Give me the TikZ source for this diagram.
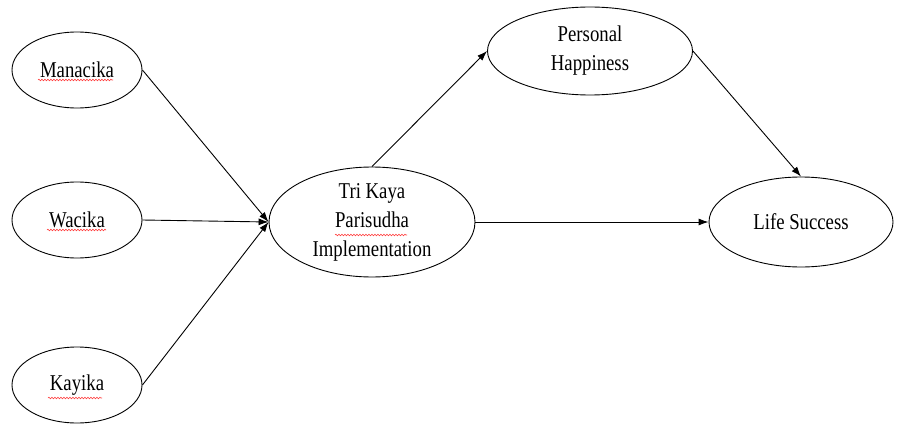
\documentclass[tikz,border=0pt]{standalone}
\usepackage{fontspec}
\setmainfont{Liberation Serif}[FakeStretch=0.83]
\usetikzlibrary{shapes.geometric,arrows.meta,decorations.pathmorphing}
\tikzset{
  oval/.style={ellipse,draw,line width=0.9pt,inner sep=0pt,align=center,
    font=\fontsize{22.6}{29}\selectfont},
  conn/.style={line width=0.9pt,-{Latex[length=10pt,width=7pt]}},
  squig/.style={red!75,line width=0.6pt,decorate,decoration={snake,segment length=3pt,amplitude=0.8pt}}
}
\begin{document}
\begin{tikzpicture}[x=1pt,y=-1pt]
\useasboundingbox (0,0) rectangle (901,425);
\node[oval,minimum width=130,minimum height=76] (man) at (77,70) {Manacika};
\node[oval,minimum width=130,minimum height=76] (wac) at (77,220) {Wacika};
\node[oval,minimum width=130,minimum height=76] (kay) at (77,385) {Kayika};
\node[oval,minimum width=206,minimum height=89] (tri) at (372,222) {Tri Kaya\\Parisudha\\Implementation};
\node[oval,minimum width=205,minimum height=88] (per) at (590,51) {Personal\\Happiness};
\node[oval,minimum width=184,minimum height=90] (life) at (801,222) {Life Success};
\draw[squig] (38,80) -- (113,80);
\draw[squig] (47,230) -- (106,230);
\draw[squig] (48,398) -- (102,398);
\draw[squig] (335,235) -- (407,235);
\draw[conn] (man.east) -- (tri.west);
\draw[conn] (wac.east) -- (tri.west);
\draw[conn] (kay.east) -- (tri.west);
\draw[conn] (tri.north) -- (per.west);
\draw[conn] (per.east) -- (life.north);
\draw[conn] (tri.east) -- (life.west);
\end{tikzpicture}
\end{document}
